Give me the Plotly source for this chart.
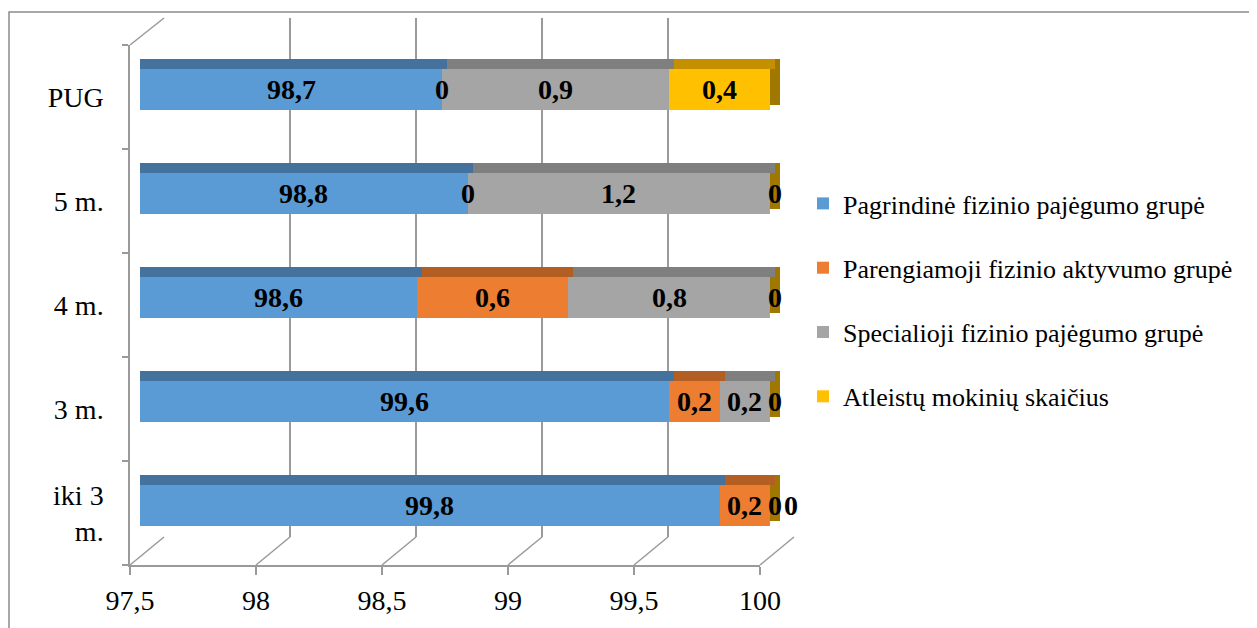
import plotly.graph_objects as go
import numpy as np

# ---------------- data ----------------
categories = ["iki 3 m.", "3 m.", "4 m.", "5 m.", "PUG"]
category_tick_labels = ["iki 3<br>m.", "3 m.", "4 m.", "5 m.", "PUG"]
series_names = [
    "Pagrindinė fizinio pajėgumo grupė",
    "Parengiamoji fizinio aktyvumo grupė",
    "Specialioji fizinio pajėgumo grupė",
    "Atleistų mokinių skaičius",
]
pagrindine = [99.8, 99.6, 98.6, 98.8, 98.7]
parengiamoji = [0.2, 0.2, 0.6, 0.0, 0.0]
specialioji = [0.0, 0.2, 0.8, 1.2, 0.9]
atleistu = [0.0, 0.0, 0.0, 0.0, 0.4]
x_ticks = [97.5, 98, 98.5, 99, 99.5, 100]

# ---------------- style ----------------
front_colors = ["#5B9BD5", "#ED7D31", "#A5A5A5", "#FFC000"]
top_colors = ["#44729D", "#B35F24", "#7F7F7F", "#C49000"]
side_color = "#A07800"
grid_color = "#9A9A9A"
FONT = "Liberation Serif"

# page body adds an 8px offset; figure is sized so that screen = figure + 8
OFF = 8
W, H = 1257 - OFF, 628 - OFF
# plot (paper) area in screen pixels
PX0, PX1, PY0, PY1 = 120, 800, 15, 570
ML, MR, MT, MB = PX0 - OFF, W - (PX1 - OFF), PY0 - OFF, H - (PY1 - OFF)
PW, PH = PX1 - PX0, PY1 - PY0


def px(p):
    return (p - PX0) / PW


def py(p):
    return (PY1 - p) / PH


series = [pagrindine, parengiamoji, specialioji, atleistu]
XMIN, XMAX = x_ticks[0], x_ticks[-1]
unit_px = 630.0 / (XMAX - XMIN)
cat_px = 519.0 / len(categories)
BAR_L, BAR_R = 140, 800           # bar subplot spans a bit past 100 so 3-D faces are not clipped
x_span = (BAR_R - BAR_L) / unit_px

fig = go.Figure()

# back-wall grid subplot (x / y) and floor subplot (x2 / y2): axes only
fig.add_trace(go.Scatter(x=[], y=[], xaxis="x", yaxis="y", showlegend=False, hoverinfo="skip"))
fig.add_trace(go.Scatter(x=[], y=[], xaxis="x2", yaxis="y2", showlegend=False, hoverinfo="skip"))

# right end face (total of each row)
totals = np.sum(np.array(series), axis=0)
fig.add_trace(go.Bar(
    y=categories, x=totals, orientation="h", xaxis="x3", yaxis="y3",
    marker=dict(color=side_color, line=dict(width=0)), width=46 / cat_px,
    showlegend=False, hoverinfo="skip"))

# top faces
for name, vals, col in zip(series_names, series, top_colors):
    fig.add_trace(go.Bar(
        y=categories, x=vals, orientation="h", xaxis="x4", yaxis="y4",
        marker=dict(color=col, line=dict(width=0)), width=10 / cat_px,
        showlegend=False, hoverinfo="skip"))

# front faces
for name, vals, col in zip(series_names, series, front_colors):
    fig.add_trace(go.Bar(
        y=categories, x=vals, orientation="h", xaxis="x5", yaxis="y5", name=name,
        legendgroup=name,
        marker=dict(color=col, line=dict(width=0)), width=41 / cat_px))

# value labels
starts = np.cumsum(np.vstack([np.zeros(len(categories))] + [np.array(s) for s in series[:-1]]), axis=0)
annotations = []
for i, cat in enumerate(categories):
    zero_end = 0
    for s, vals in enumerate(series):
        v = vals[i]
        a = starts[s][i]
        b = a + v
        xshift = 0
        if v == 0:
            xpos = a
            if a >= XMAX - 1e-9:
                xshift = 5 + 16 * zero_end
                zero_end += 1
        else:
            xpos = (max(a, XMIN) + b) / 2
        txt = ("%g" % v).replace(".", ",")
        annotations.append(dict(
            x=xpos, y=cat, xref="x5", yref="y5", text="<b>%s</b>" % txt, showarrow=False,
            xshift=xshift, font=dict(family=FONT, size=28, color="black"),
            xanchor="center", yanchor="middle"))

# decorative 3-D wall / floor edges derived from the tick values
shapes = []
for t in x_ticks:
    f = 130 + (t - XMIN) * unit_px
    bk = 164 + (t - XMIN) * unit_px
    shapes.append(dict(type="line", xref="paper", yref="paper",
                       x0=px(f), y0=py(565), x1=px(bk), y1=py(537),
                       line=dict(color=grid_color, width=1.5)))
shapes.append(dict(type="line", xref="paper", yref="paper",
                   x0=px(130), y0=py(45), x1=px(164), y1=py(18),
                   line=dict(color=grid_color, width=1.5)))
# outer chart border (left and top edges visible)
shapes.append(dict(type="rect", xref="paper", yref="paper",
                   x0=px(9), y0=py(660), x1=px(1300), y1=py(12),
                   line=dict(color="#8C8C8C", width=1.5), fillcolor="rgba(0,0,0,0)"))

shift_top_x = 5 / unit_px
shift_top_y = 25.5 / cat_px
shift_side_x = 10 / unit_px
shift_side_y = 7.5 / cat_px
n = len(categories)

hidden = dict(visible=False, fixedrange=True)

fig.update_layout(
    width=W, height=H,
    margin=dict(l=ML, r=MR, t=MT, b=MB, autoexpand=False),
    paper_bgcolor="white", plot_bgcolor="rgba(0,0,0,0)",
    barmode="stack", bargap=0,
    separators=", ",
    font=dict(family=FONT, size=28, color="black"),
    showlegend=True,
    legend=dict(
        x=px(803), xanchor="left", y=py(180), yanchor="top",
        font=dict(family=FONT, size=26, color="black"),
        traceorder="grouped", tracegroupgap=27.5, bgcolor="rgba(0,0,0,0)"),
    # back wall grid
    xaxis=dict(domain=[px(164), px(794)], range=[XMIN, XMAX], tickvals=x_ticks,
               showticklabels=False, ticks="", showgrid=True, gridcolor=grid_color,
               gridwidth=1.5, showline=False, zeroline=False, anchor="y"),
    yaxis=dict(domain=[py(537), py(18)], range=[0, 1], showgrid=False, showline=False,
               showticklabels=False, ticks="", zeroline=False, anchor="x"),
    # floor / front wall axes with labels
    xaxis2=dict(domain=[px(130), px(760)], range=[XMIN, XMAX], tickvals=x_ticks,
                ticks="outside", ticklen=8, tickcolor=grid_color, tickwidth=1.5,
                showline=True, linecolor=grid_color, linewidth=1.5, showgrid=False,
                zeroline=False, anchor="y2", ticklabelstandoff=2,
                tickfont=dict(family=FONT, size=28, color="black")),
    yaxis2=dict(domain=[py(565), py(45)], range=[0, n],
                tickvals=[k + 0.5 for k in range(n)], ticktext=category_tick_labels,
                ticks="", showline=True, linecolor=grid_color, linewidth=1.5,
                showgrid=False, zeroline=False, anchor="x2", ticklabelstandoff=19,
                minor=dict(tickvals=list(range(n + 1)), ticks="outside", ticklen=6,
                           tickcolor=grid_color, tickwidth=1.5, showgrid=False),
                tickfont=dict(family=FONT, size=28, color="black")),
    # bar subplots
    xaxis3=dict(hidden, domain=[px(BAR_L), px(BAR_R)],
                range=[XMIN - shift_side_x, XMIN + x_span - shift_side_x], anchor="y3"),
    yaxis3=dict(hidden, domain=[py(557), py(38)], type="category",
                categoryorder="array", categoryarray=categories,
                range=[-0.5 - shift_side_y, n - 0.5 - shift_side_y], anchor="x3"),
    xaxis4=dict(hidden, overlaying="x3", anchor="y3",
                range=[XMIN - shift_top_x, XMIN + x_span - shift_top_x]),
    yaxis4=dict(hidden, overlaying="y3", anchor="x3", type="category",
                categoryorder="array", categoryarray=categories,
                range=[-0.5 - shift_top_y, n - 0.5 - shift_top_y]),
    xaxis5=dict(hidden, overlaying="x3", anchor="y3", range=[XMIN, XMIN + x_span]),
    yaxis5=dict(hidden, overlaying="y3", anchor="x3", type="category",
                categoryorder="array", categoryarray=categories,
                range=[-0.5, n - 0.5]),
    annotations=annotations,
    shapes=shapes,
)

fig.write_html("out.html")
